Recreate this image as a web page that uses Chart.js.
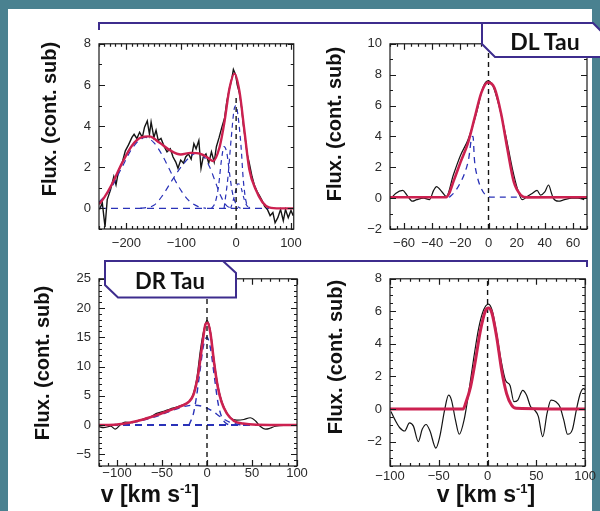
<!DOCTYPE html>
<html><head><meta charset="utf-8">
<script src="https://cdn.jsdelivr.net/npm/chart.js@4.4.1/dist/chart.umd.min.js"></script>
<style>
body{margin:0;width:600px;height:511px;background:#4a8190;position:relative;overflow:hidden;font-family:"Liberation Sans",Arial,sans-serif}
#sheet{position:absolute;left:8px;top:9px;width:584px;height:502px;background:#fff}
canvas{position:absolute}
.yt{position:absolute;width:220px;height:24px;line-height:24px;text-align:center;font-weight:bold;font-size:20px;color:#111;transform:rotate(-90deg);white-space:nowrap}
.xt{position:absolute;width:200px;height:28px;line-height:28px;text-align:center;font-weight:bold;font-size:23px;color:#111;white-space:nowrap}
.xt span{font-size:13px;position:relative;top:-9px}
.lab{position:absolute;font-family:Lato,"Open Sans",sans-serif;font-weight:bold;color:#111;white-space:nowrap;text-align:center;width:140px;z-index:7}
</style></head>
<body>
<div id="sheet"></div>

<script>
// ---------- Panel 1 (top-left) ----------
const p1Vel = [-249,-244,-239,-235,-229,-223,-219,-214,-208,-202,-196,-190,-186,-181,-176,-171,-167,-162,-158,-155,-150,-146,-142,-137,-131,-126,-120,-115,-110,-106,-101,-96,-92,-87,-82,-77,-73,-68,-64,-60,-55,-50,-45,-40,-36,-31,-26,-21,-17,-12,-8,-5,-1,2,6,10,13,17,20,24,29,33,38,43,48,52,57,62,67,71,76,81,86,90,95,100,104];
const p1Flux = [-0.05,0.27,-0.9,0.43,0.9,1.55,1.15,1.87,2.2,2.8,3.1,3.45,3.6,3.4,3.7,3.45,3.95,4.25,3.6,4.2,3.45,3.8,3.3,3.4,3.0,2.75,2.9,2.5,2.25,1.95,2.35,2.2,2.5,2.65,2.4,3.15,2.9,3.3,1.95,2.5,2.65,2.2,2.75,2.25,3.0,3.45,3.95,4.4,5.2,5.85,6.3,6.75,6.5,6.0,5.6,4.9,4.1,3.3,2.65,2.2,1.55,1.15,0.83,0.6,0.35,0.1,-0.05,-0.35,-0.2,-0.7,-0.45,-0.05,-0.6,-0.05,-0.45,-0.1,-0.35];
const p1FitVel = [-250,-240,-226,-208,-190,-173,-158,-140,-119,-101,-83,-65,-51,-42,-30,-21,-12,-3,6,15,24,36,48,60,80,105];
const p1Fit = [0.2,0.55,1.2,2.2,3.05,3.45,3.5,3.2,2.8,2.62,2.7,2.65,2.45,2.3,3.0,4.25,5.85,6.55,5.7,3.8,1.9,0.9,0.3,0.05,0,0];
const p1BaseVel = [-250,60];
const p1Base = [0,0];
const p1BroadVel = [-250,-230,-210,-190,-175,-165,-150,-135,-115,-100,-85,-70,-55];
const p1Broad = [0.3,0.9,1.9,2.9,3.35,3.45,3.2,2.6,1.55,0.85,0.35,0.1,0];
const p1MidVel = [-175,-150,-135,-116,-98,-80,-70,-60,-48,-38,-28,-18,-8];
const p1Mid = [0,0.15,0.6,1.4,2.1,2.6,2.7,2.55,2.0,1.3,0.6,0.15,0];
const p1BlueVel = [-45,-38,-32,-27,-22,-17,-12,-7,0,8];
const p1Blue = [0,0.3,1.1,2.3,3.0,2.7,1.7,0.8,0.2,0];
const p1CoreVel = [-22,-15,-9,-3,0,3,9,13,18,25];
const p1Core = [0,1.5,3.4,4.9,5.0,4.6,3.0,1.4,0.35,0];
const p1RedVel = [-10,-3,3,8,13,18,25];
const p1Red = [0,0.6,1.2,1.1,0.6,0.2,0];
const p1ZeroVel = [0,0];
const p1Zero = [-1,5.5];
const p1XTicks = [-200,-100,0,100];
const p1YTicks = [0,2,4,6,8];

// ---------- Panel 2 (top-right, DL Tau) ----------
const p2Vel = [-69,-66,-61,-58,-54,-51,-46,-42,-39,-37,-33,-30,-25,-20,-14.5,-8.6,-4,-0.5,3,7.7,12.4,17,20.5,24,27.5,31,34.5,37,40,42.7,44.5,46,49.7,54,59,63.6,68];
const p2Flux = [0,0.3,0.5,0.2,-0.2,-0.1,0,-0.1,0.5,0.75,0.4,0.1,1.5,2.75,3.8,5.5,7.15,7.6,7.3,5.9,4.0,1.9,0.63,-0.1,0.1,0.3,0.5,0.2,0.4,0.85,0.4,0,-0.2,-0.1,0,0,-0.1];
const p2FitVel = [-70,-30,-28,-25,-20,-14.5,-10,-5,-0.5,4.2,8.9,13.5,18,23,27.5,70];
const p2Fit = [0.06,0.06,0.3,1.05,2.3,3.6,5.15,6.85,7.5,7.15,5.5,3.15,1.05,0.2,0.05,0.06];
const p2CompVel = [-28,-24,-20,-17,-14,-12,-11,-10,-8,-5,-2,3,30];
const p2Comp = [0.05,0.4,1.0,1.6,2.6,3.9,4.0,2.5,1.4,0.6,0.2,0.06,0.06];
const p2ZeroVel = [0,0];
const p2Zero = [-2,10];
const p2XTicks = [-60,-40,-20,0,20,40,60];
const p2YTicks = [-2,0,2,4,6,8,10];

// ---------- Panel 3 (bottom-left, DR Tau) ----------
const p3Vel = [-121,-115,-107,-102,-96,-91,-85,-78,-70,-63,-56,-48,-41,-33,-26,-20,-15,-11,-7.4,-3.7,0,3.7,7.4,11,14.8,20,26,33,41,48,54,59,65,70,76,85,96,100];
const p3Flux = [-0.2,-0.45,-0.2,-0.7,0.1,0.5,0.4,0.7,1.05,1.4,2.0,2.35,2.75,3.1,3.5,4.0,5.45,8.3,12.75,16.1,17.9,16.1,11.6,7.7,4.9,2.65,1.25,0.85,0.95,1.25,0.7,-0.2,-0.7,-0.55,-0.2,-0.05,-0.05,0];
const p3FitVel = [-120,-100,-85,-70,-55,-40,-28,-20,-15,-10,-5,-1.5,1,4,8,12,16,22,30,40,55,100];
const p3Fit = [0,0.1,0.45,1.0,1.75,2.6,3.3,4.0,5.2,8.5,14,17.3,17.5,15.5,10.5,6.5,4.0,2.0,0.7,0.25,0.05,0];
const p3BaseVel = [-120,100];
const p3Base = [0,0];
const p3BroadVel = [-120,-100,-80,-60,-40,-25,-15,-5,5,15,25,35,45];
const p3Broad = [0,0.1,0.5,1.3,2.4,3.2,3.4,3.2,2.5,1.4,0.5,0.1,0];
const p3NarrowVel = [-20,-15,-12,-8,-4,0,4,8,12,16,22,28];
const p3Narrow = [0,2.0,4.5,9,13.5,15,13,8.5,4,1.5,0.2,0];
const p3ZeroVel = [0,0];
const p3Zero = [-7,25];
const p3XTicks = [-100,-50,0,50,100];
const p3YTicks = [-5,0,5,10,15,20,25];

// ---------- Panel 4 (bottom-right) ----------
const p4Vel = [-99,-95,-90,-85,-80,-76,-71,-67,-63,-59,-53,-49,-44,-40,-37,-33,-29,-24,-19,-14,-9,-4,1,5,9.4,13.8,18.5,23,27,31,36,40,44,48,52,56.5,61,65,70,74,78,82,87,91,95,98.5,100];
const p4Flux = [-0.15,-0.65,-1.15,-1.35,-0.85,-1.05,-2.0,-1.25,-0.95,-1.35,-2.4,-1.7,-0.05,0.85,0.55,-0.65,-1.55,-0.65,1.15,3.2,5.0,6.1,6.45,6.0,4.6,3.0,1.75,1.45,0.45,0.55,1.15,0.85,0.15,-0.05,-0.45,-1.7,-0.25,0.55,0.45,0.15,-0.65,-1.55,-1.25,-0.05,0.95,1.25,1.2];
const p4FitVel = [-100,-25,-22.5,-17.5,-12.4,-7.4,-2.4,1,4.4,9.4,14.5,19.5,24.5,29.5,100];
const p4Fit = [0,0,0.35,1.35,3.0,4.8,6.0,6.2,5.9,4.4,2.35,0.95,0.25,0.05,0];
const p4ZeroVel = [0,0];
const p4Zero = [-3.5,8];
const p4XTicks = [-100,-50,0,50,100];
const p4YTicks = [-2,0,2,4,6,8];

// ---------- helpers ----------
const pts = (xs, ys) => xs.map((x, i) => ({x, y: ys[i]}));
const fmt = v => (v < 0 ? '\u2212' + Math.abs(v) : String(v));
const BLACK = '#141414', RED = '#cc2150', BLUE = '#2a32b8';

const frameTicks = {
  id: 'frameTicks',
  afterDatasetsDraw(chart, args, o) {
    const {ctx, chartArea: a} = chart;
    const sx = chart.scales.x, sy = chart.scales.y;
    ctx.save();
    ctx.strokeStyle = '#1a1a1a';
    ctx.lineWidth = 1.2;
    ctx.strokeRect(a.left, a.top, a.right - a.left, a.bottom - a.top);
    ctx.beginPath();
    const xs = (step, len) => {
      const start = Math.ceil(sx.min / step) * step;
      for (let v = start; v <= sx.max + 1e-9; v += step) {
        const p = Math.round(sx.getPixelForValue(v)) + 0.5;
        ctx.moveTo(p, a.bottom); ctx.lineTo(p, a.bottom - len);
        ctx.moveTo(p, a.top); ctx.lineTo(p, a.top + len);
      }
    };
    const ys = (step, len) => {
      const start = Math.ceil(sy.min / step) * step;
      for (let v = start; v <= sy.max + 1e-9; v += step) {
        const p = Math.round(sy.getPixelForValue(v)) + 0.5;
        ctx.moveTo(a.left, p); ctx.lineTo(a.left + len, p);
        ctx.moveTo(a.right, p); ctx.lineTo(a.right - len, p);
      }
    };
    xs(o.xMinor, 3); ys(o.yMinor, 3);
    xs(o.xMajor, 6); ys(o.yMajor, 6);
    ctx.stroke();
    ctx.restore();
  }
};

function line(data, color, width, dash, smooth, order) {
  return {data, borderColor: color, borderWidth: width, borderDash: dash || [],
    pointRadius: 0, fill: false, order,
    tension: smooth ? 0.4 : 0, cubicInterpolationMode: smooth ? 'monotone' : 'default'};
}

function makePanel(rect, xr, yr, xTicks, yTicks, tickSteps, xPad, datasets) {
  const PL = 45, PT = 12, PR = 12, XH = 30;
  const cv = document.createElement('canvas');
  const w = rect.r - rect.l + PL + PR, h = rect.b - rect.t + PT + XH;
  cv.width = w; cv.height = h;
  cv.style.left = (rect.l - PL) + 'px'; cv.style.top = (rect.t - PT) + 'px';
  cv.style.width = w + 'px'; cv.style.height = h + 'px';
  document.body.appendChild(cv);
  const font = {family: '"Liberation Sans", Arial, sans-serif', size: 13};
  new Chart(cv, {
    type: 'line',
    data: {datasets},
    options: {
      responsive: false, animation: false, events: [],
      layout: {padding: {left: 0, top: PT, right: PR, bottom: 0}},
      plugins: {legend: {display: false}, tooltip: {enabled: false}, frameTicks: tickSteps},
      scales: {
        x: {type: 'linear', min: xr[0], max: xr[1],
          grid: {display: false, drawTicks: false}, border: {display: false},
          afterBuildTicks: s => { s.ticks = xTicks.map(v => ({value: v})); },
          afterFit: s => { s.height = XH; },
          ticks: {autoSkip: false, maxRotation: 0, padding: xPad, color: '#2a2a2a', font, callback: fmt}},
        y: {type: 'linear', min: yr[0], max: yr[1],
          grid: {display: false, drawTicks: false}, border: {display: false},
          afterBuildTicks: s => { s.ticks = yTicks.map(v => ({value: v})); },
          afterFit: s => { s.width = PL; },
          ticks: {padding: 8, color: '#2a2a2a', font, callback: fmt}}
      }
    },
    plugins: [frameTicks]
  });
}

makePanel({l: 99, t: 40, r: 297, b: 229}, [-250, 105], [-1, 8], p1XTicks, p1YTicks,
  {xMajor: 100, xMinor: 10, yMajor: 2, yMinor: 1}, 7, [
  line(pts(p1FitVel, p1Fit), RED, 2.4, null, true, 0),
  line(pts(p1ZeroVel, p1Zero), BLACK, 1.4, [5, 4], false, 1),
  line(pts(p1BaseVel, p1Base), BLUE, 1.2, [7, 5], false, 2),
  line(pts(p1BroadVel, p1Broad), BLUE, 1.2, [6, 5], true, 2),
  line(pts(p1MidVel, p1Mid), BLUE, 1.2, [6, 5], true, 2),
  line(pts(p1BlueVel, p1Blue), BLUE, 1.2, [5, 4], true, 2),
  line(pts(p1CoreVel, p1Core), BLUE, 1.2, [5, 4], true, 2),
  line(pts(p1RedVel, p1Red), BLUE, 1.2, [4, 4], true, 2),
  line(pts(p1Vel, p1Flux), BLACK, 1.4, null, false, 3)
]);

makePanel({l: 390, t: 40, r: 587, b: 229}, [-70, 70], [-2, 10], p2XTicks, p2YTicks,
  {xMajor: 20, xMinor: 5, yMajor: 2, yMinor: 1}, 7, [
  line(pts(p2FitVel, p2Fit), RED, 2.6, null, true, 0),
  line(pts(p2ZeroVel, p2Zero), BLACK, 1.4, [5, 4], false, 1),
  line(pts(p2CompVel, p2Comp), BLUE, 1.3, [6, 5], true, 2),
  line(pts(p2Vel, p2Flux), BLACK, 1.2, null, true, 3)
]);

makePanel({l: 99, t: 275, r: 297, b: 466}, [-120, 100], [-7, 25], p3XTicks, p3YTicks,
  {xMajor: 50, xMinor: 10, yMajor: 5, yMinor: 1}, 0, [
  line(pts(p3FitVel, p3Fit), RED, 2.6, null, true, 0),
  line(pts(p3ZeroVel, p3Zero), BLACK, 1.4, [5, 4], false, 1),
  line(pts(p3BaseVel, p3Base), BLUE, 2, [7, 5], false, 2),
  line(pts(p3BroadVel, p3Broad), BLUE, 1.4, [6, 5], true, 2),
  line(pts(p3NarrowVel, p3Narrow), BLUE, 1.4, [6, 5], true, 2),
  line(pts(p3Vel, p3Flux), BLACK, 1.2, null, true, 3)
]);

makePanel({l: 390, t: 275, r: 587, b: 466}, [-100, 100], [-3.5, 8], p4XTicks, p4YTicks,
  {xMajor: 50, xMinor: 10, yMajor: 2, yMinor: 0.5}, 3, [
  line(pts(p4FitVel, p4Fit), RED, 3, null, true, 0),
  line(pts(p4ZeroVel, p4Zero), BLACK, 1.4, [5, 4], false, 1),
  line(pts(p4Vel, p4Flux), BLACK, 1.2, null, true, 3)
]);
</script>

<svg width="600" height="511" style="position:absolute;left:0;top:0;z-index:6">
  <polyline points="99,30 99,23 482,23" fill="none" stroke="#3d2c8d" stroke-width="2"/>
  <polygon points="482,23 593,23 601,31 601,57 495,57 482,44" fill="#fff" stroke="#3d2c8d" stroke-width="2"/>
  <polyline points="223,261 587,261 587,267" fill="none" stroke="#3d2c8d" stroke-width="2"/>
  <polygon points="105,261 223,261 236,273 236,297.5 118,297.5 105,285" fill="#fff" stroke="#3d2c8d" stroke-width="2"/>
</svg>
<div class="lab" style="left:475px;top:26px;font-size:23px;line-height:30px">DL Tau</div>
<div class="lab" style="left:100px;top:266px;font-size:22px;line-height:30px">DR Tau</div>

<div class="yt" style="left:-61.5px;top:106.5px">Flux. (cont. sub)</div>
<div class="yt" style="left:223.5px;top:112px">Flux. (cont. sub)</div>
<div class="yt" style="left:-68.5px;top:350.5px">Flux. (cont. sub)</div>
<div class="yt" style="left:225px;top:345px">Flux. (cont. sub)</div>
<div class="xt" style="left:50px;top:480px">v [km s<span>-1</span>]</div>
<div class="xt" style="left:386px;top:480px">v [km s<span>-1</span>]</div>
</body></html>
